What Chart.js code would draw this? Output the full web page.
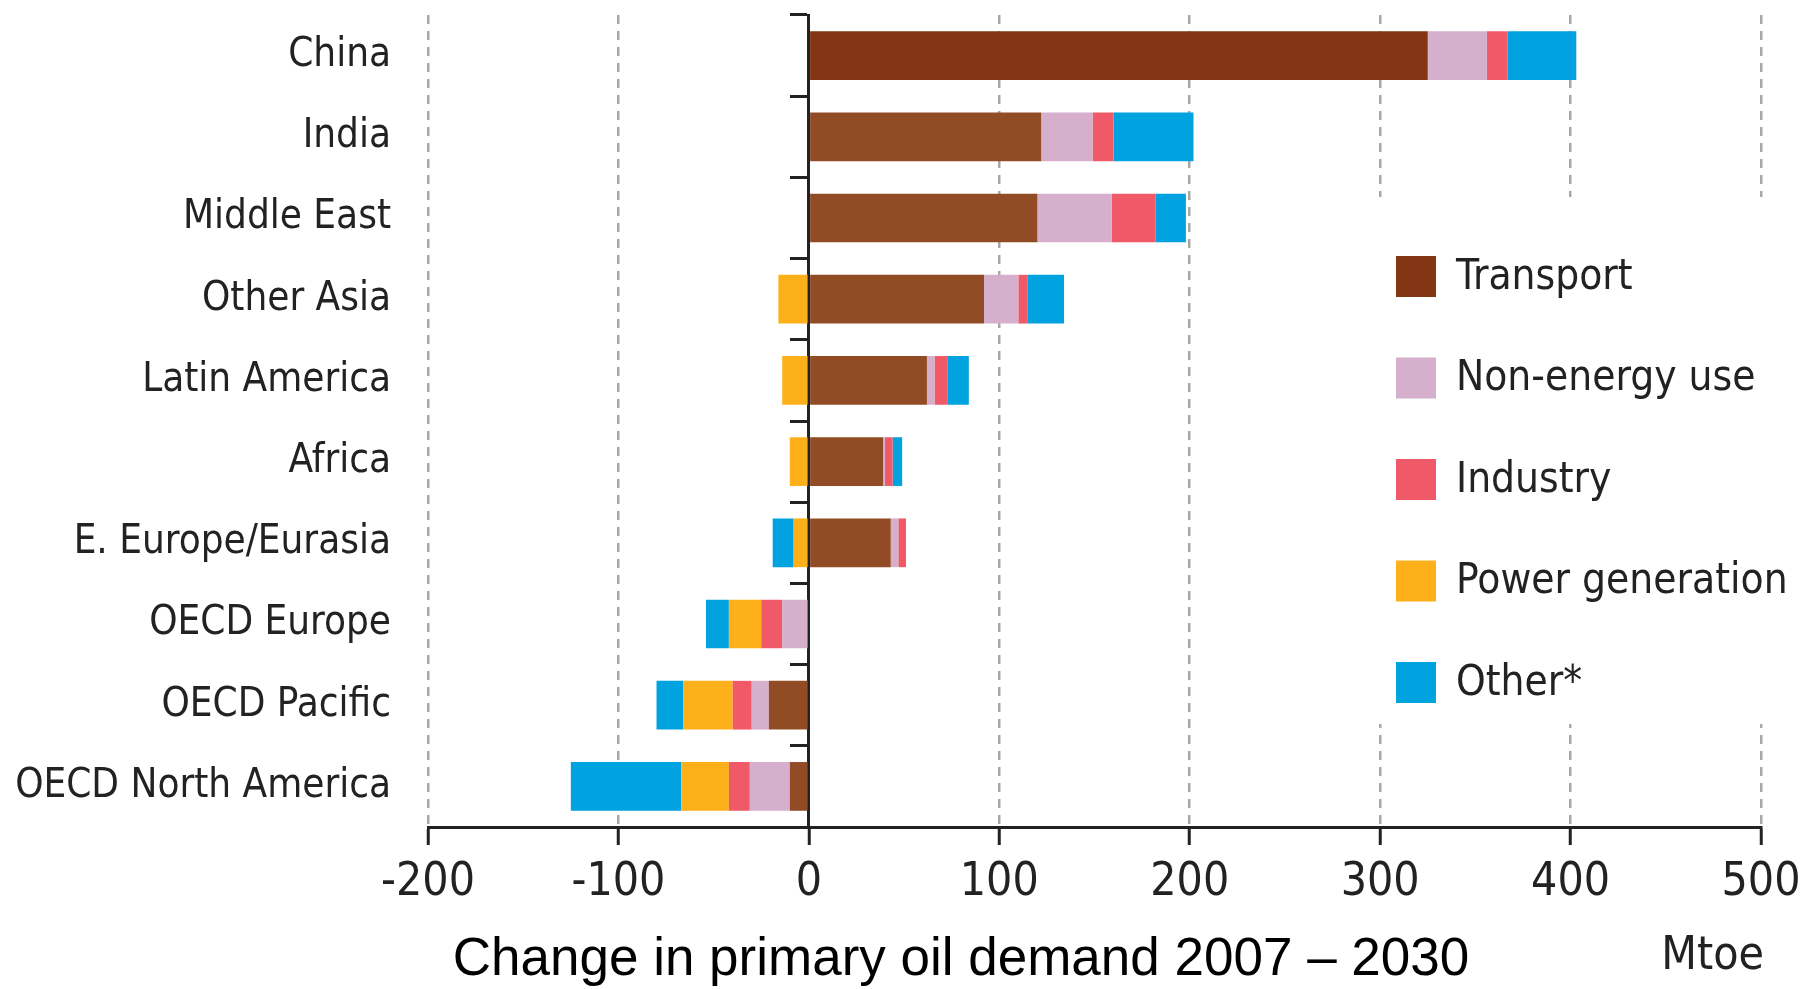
<!DOCTYPE html>
<html>
<head>
<meta charset="utf-8">
<script src="https://cdn.jsdelivr.net/npm/chart.js@4.4.1/dist/chart.umd.min.js"></script>
<style>
  html, body { margin: 0; padding: 0; background: #fff; }
  canvas { display: block; }
</style>
</head>
<body>
<canvas id="oil" width="1816" height="989"></canvas>
<script>
// Change in primary oil demand 2007-2030 by region and sector (Mtoe)
const regions = ['China', 'India', 'Middle East', 'Other Asia', 'Latin America', 'Africa',
  'E. Europe/Eurasia', 'OECD Europe', 'OECD Pacific', 'OECD North America'];
const transport = [325, 122, 120, 92, 62, 39, 43, 0, -21, -10];
const nonEnergy = [31, 27, 39, 18, 4, 1, 4, -14, -9, -21];
const industry  = [11, 11, 23, 5, 7, 4, 4, -11, -10, -11];
const powerGen  = [0, 0, 0, -16, -14, -10, -8, -17, -26, -25];
const other     = [36, 42, 16, 19, 11, 5, -11, -12, -14, -58];
const xTicks = [-200, -100, 0, 100, 200, 300, 400, 500];

const LABEL_FONT = '"DejaVu Sans Condensed", "DejaVu Sans", sans-serif';
const NARROW_FONT = '"Liberation Sans Narrow", "DejaVu Sans Condensed", sans-serif';

// China's transport bar is a shade darker in the original
const transportColors = regions.map((r, i) => i === 0 ? '#843513' : '#914b25');

// legend drawn over the plot, on a white panel (hides the grid behind it)
const sideLegend = {
  id: 'sideLegend',
  afterDraw(chart) {
    const ctx = chart.ctx;
    ctx.save();
    ctx.fillStyle = '#fff';
    ctx.fillRect(1372, 197, 444, 527);
    ctx.font = '42px ' + LABEL_FONT;
    ctx.textBaseline = 'middle';
    chart.data.datasets.forEach((ds, i) => {
      const y = 276 + i * 101.5;
      ctx.fillStyle = ds.legendColor;
      ctx.fillRect(1396, y - 20, 40, 41);
      ctx.fillStyle = '#222';
      ctx.fillText(ds.label, 1456, y + 2);
    });

    // caption + unit
    ctx.fillStyle = '#000';
    ctx.textAlign = 'center';
    ctx.font = '53px "Liberation Sans", Arial, sans-serif';
    ctx.fillText('Change in primary oil demand 2007 \u2013 2030', 961, 960);
    ctx.textAlign = 'right';
    ctx.fillStyle = '#222';
    ctx.font = '46px ' + NARROW_FONT;
    ctx.fillText('Mtoe', 1764, 957);
    ctx.restore();
  }
};

new Chart(document.getElementById('oil'), {
  type: 'bar',
  data: {
    labels: regions,
    datasets: [
      { label: 'Transport', data: transport, backgroundColor: transportColors, legendColor: '#843513' },
      { label: 'Non-energy use', data: nonEnergy, backgroundColor: '#d5afcb', legendColor: '#d5afcb' },
      { label: 'Industry', data: industry, backgroundColor: '#f05a68', legendColor: '#f05a68' },
      { label: 'Power generation', data: powerGen, backgroundColor: '#fdb01a', legendColor: '#fdb01a' },
      { label: 'Other*', data: other, backgroundColor: '#00a2e0', legendColor: '#00a2e0' },
    ],
  },
  options: {
    indexAxis: 'y',
    responsive: false,
    animation: false,
    devicePixelRatio: 1,
    layout: { padding: { top: 15, right: 55, left: 0, bottom: 0 } },
    datasets: { bar: { barPercentage: 0.6, categoryPercentage: 1 } },
    plugins: { legend: { display: false }, tooltip: { enabled: false } },
    scales: {
      x: {
        type: 'linear',
        stacked: true,
        min: -200,
        max: 500,
        afterBuildTicks: (s) => { s.ticks = xTicks.map(v => ({ value: v })); },
        afterFit: (s) => { s.height = 162; },
        ticks: {
          color: '#222',
          padding: 10,
          font: { family: NARROW_FONT, size: 46 },
        },
        grid: {
          color: (c) => (c.tick && c.tick.value === 0) ? 'rgba(0,0,0,0)' : '#a8a8a8',
          lineWidth: 2.5,
          tickColor: '#222',
          tickWidth: 3,
          tickLength: 18,
          tickBorderDash: [],
        },
        border: { display: true, color: '#222', width: 3, dash: [9, 7] },
      },
      y: {
        stacked: true,
        position: 'left',
        afterFit: (s) => { s.width = 428; s.paddingTop = 0; s.paddingBottom = 0; },
        ticks: {
          color: '#222',
          padding: 37,
          font: { family: LABEL_FONT, size: 40 },
        },
        grid: { display: false, drawTicks: false, tickLength: 0 },
        border: { display: false },
      },
      // zero axis with the short category ticks
      y2: {
        type: 'category',
        position: { x: 0 },
        offset: true,
        afterFit: (s) => { s.paddingTop = 0; s.paddingBottom = 0; },
        ticks: { display: false },
        grid: {
          offset: true,
          drawOnChartArea: false,
          drawTicks: true,
          tickLength: 17,
          color: '#222',
          lineWidth: 3,
        },
        border: { display: true, color: '#222', width: 3 },
      },
    },
  },
  plugins: [sideLegend],
});
</script>
</body>
</html>
